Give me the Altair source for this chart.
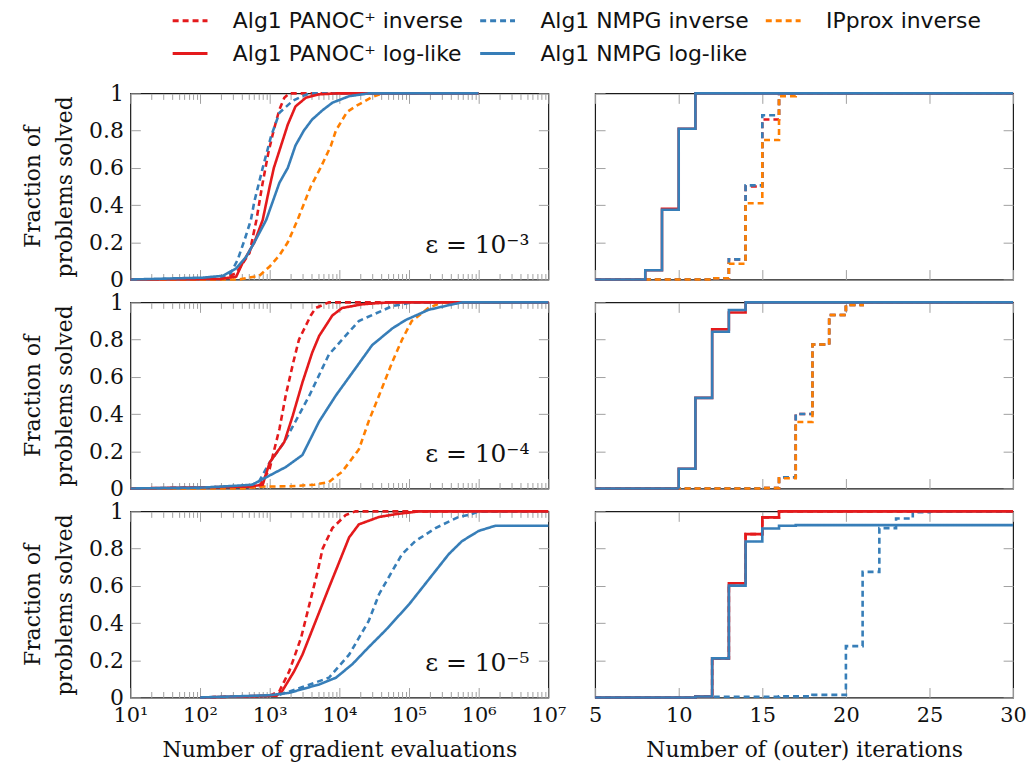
import altair as alt
import pandas as pd

# ---------------------------------------------------------------- series
SERIES = ["Alg1 PANOC⁺ inverse", "Alg1 NMPG inverse", "IPprox inverse",
          "Alg1 PANOC⁺ log-like", "Alg1 NMPG log-like"]
COLORS = ["#e41a1c", "#377eb8", "#ff7f00", "#e41a1c", "#377eb8"]
DASHES = [[6, 4], [6, 4], [6, 4], [1, 0], [1, 0]]

# ---------------------------------------------------------------- row 1 (eps = 1e-3), gradient evaluations
GE3_PANOC_INV_X = [10, 200, 331, 513, 646, 776, 955, 1148, 1380, 1622, 1905, 1000000]
GE3_PANOC_INV_Y = [0, 0.003, 0.034, 0.142, 0.321, 0.5, 0.68, 0.806, 0.914, 0.977, 1, 1]
GE3_NMPG_INV_X = [10, 200, 275, 347, 437, 537, 603, 794, 1047, 1380, 2138, 2951, 3715, 1000000]
GE3_NMPG_INV_Y = [0, 0.005, 0.034, 0.106, 0.214, 0.32, 0.42, 0.6, 0.77, 0.896, 0.96, 0.985, 1, 1]
GE3_IPPROX_X = [10, 363, 708, 1000, 1380, 1820, 2512, 3890, 5370, 7586, 8913, 12880, 16980, 29510, 40740, 1000000]
GE3_IPPROX_Y = [0, 0, 0.02, 0.07, 0.13, 0.2, 0.32, 0.5, 0.6, 0.72, 0.8, 0.9, 0.93, 0.98, 1, 1]
GE3_PANOC_LOG_X = [10, 200, 331, 407, 603, 794, 1000, 1148, 1445, 1820, 2344, 3311, 5129, 8913, 1000000]
GE3_PANOC_LOG_Y = [0, 0.003, 0.016, 0.088, 0.2, 0.32, 0.5, 0.6, 0.716, 0.833, 0.93, 0.977, 0.995, 1, 1]
GE3_NMPG_LOG_X = [10, 110, 214, 331, 457, 603, 891, 1380, 1820, 2344, 3090, 4074, 5754, 7943, 13800, 26300, 1000000]
GE3_NMPG_LOG_Y = [0, 0.01, 0.02, 0.06, 0.12, 0.2, 0.32, 0.52, 0.6, 0.72, 0.8, 0.86, 0.91, 0.95, 0.985, 1, 1]

# ---------------------------------------------------------------- row 2 (eps = 1e-4), gradient evaluations
GE4_PANOC_INV_X = [10, 500, 708, 1000, 1148, 1380, 1698, 2188, 2630, 3890, 4571, 7079, 10000000]
GE4_PANOC_INV_Y = [0, 0.005, 0.01, 0.106, 0.2, 0.32, 0.5, 0.68, 0.8, 0.93, 0.97, 1, 1]
GE4_NMPG_INV_X = [10, 500, 708, 1000, 1622, 2344, 3715, 5129, 7079, 10960, 19050, 33110, 57540, 109600, 10000000]
GE4_NMPG_INV_Y = [0, 0.01, 0.04, 0.14, 0.25, 0.36, 0.5, 0.61, 0.72, 0.8, 0.9, 0.94, 0.98, 1, 1]
GE4_IPPROX_X = [10, 407, 708, 2000, 4365, 7079, 10960, 19050, 26300, 37150, 57540, 79430, 109600, 190500, 295100, 10000000]
GE4_IPPROX_Y = [0, 0, 0.01, 0.012, 0.02, 0.035, 0.09, 0.21, 0.36, 0.5, 0.68, 0.8, 0.9, 0.97, 1, 1]
GE4_PANOC_LOG_X = [10, 500, 794, 1000, 1622, 2138, 2951, 4074, 5129, 7943, 10960, 21380, 51290, 10000000]
GE4_PANOC_LOG_Y = [0, 0.01, 0.02, 0.14, 0.25, 0.39, 0.57, 0.73, 0.82, 0.93, 0.97, 0.99, 1, 1]
GE4_NMPG_LOG_X = [10, 110, 331, 562, 1000, 1698, 2951, 4074, 5129, 8913, 16980, 29510, 57540, 89130, 190500, 371500, 575400, 10000000]
GE4_NMPG_LOG_Y = [0, 0.005, 0.015, 0.02, 0.07, 0.115, 0.18, 0.285, 0.36, 0.5, 0.645, 0.77, 0.86, 0.905, 0.96, 0.985, 1, 1]

# ---------------------------------------------------------------- row 3 (eps = 1e-5), gradient evaluations
GE5_PANOC_INV_X = [100, 1000, 1380, 1905, 2818, 3715, 4898, 5754, 7943, 12300, 17000, 10000000]
GE5_PANOC_INV_Y = [0, 0.01, 0.035, 0.14, 0.32, 0.5, 0.68, 0.8, 0.91, 0.98, 1, 1]
GE5_NMPG_INV_X = [100, 1259, 2344, 7079, 13800, 26300, 37150, 57540, 79430, 123000, 239900, 512900, 794300, 1000000, 10000000]
GE5_NMPG_INV_Y = [0, 0.01, 0.043, 0.106, 0.23, 0.41, 0.555, 0.68, 0.77, 0.84, 0.91, 0.97, 0.985, 1, 1]
GE5_PANOC_LOG_X = [100, 1259, 1514, 2239, 2951, 4571, 7079, 9772, 13800, 19050, 37150, 64570, 138000, 10000000]
GE5_PANOC_LOG_Y = [0, 0.01, 0.035, 0.14, 0.23, 0.41, 0.59, 0.72, 0.86, 0.93, 0.97, 0.985, 1, 1]
GE5_NMPG_LOG_X = [100, 1000, 1905, 5129, 8913, 15490, 26300, 45710, 100000, 154900, 239900, 371500, 575400, 1000000, 1738000, 10000000]
GE5_NMPG_LOG_Y = [0, 0.012, 0.025, 0.07, 0.106, 0.18, 0.27, 0.36, 0.5, 0.59, 0.68, 0.77, 0.84, 0.895, 0.923, 0.923]

# ---------------------------------------------------------------- outer iterations (step plots)
IT3_LOG_X = [5, 8, 9, 10, 11, 30]
IT3_PANOC_LOG_Y = [0, 0.05, 0.38, 0.81, 1, 1]
IT3_NMPG_LOG_Y = [0, 0.05, 0.375, 0.81, 1, 1]
IT3_INV_X = [5, 12, 13, 14, 15, 16, 30]
IT3_PANOC_INV_Y = [0, 0.007, 0.108, 0.5, 0.86, 1, 1]
IT3_NMPG_INV_Y = [0, 0.007, 0.108, 0.506, 0.883, 1, 1]
IT3_IPPROX_X = [5, 12, 13, 14, 15, 16, 17, 30]
IT3_IPPROX_Y = [0, 0.007, 0.085, 0.41, 0.75, 0.985, 1, 1]

IT4_LOG_X = [5, 10, 11, 12, 13, 14, 30]
IT4_PANOC_LOG_Y = [0, 0.106, 0.487, 0.855, 0.946, 1, 1]
IT4_NMPG_LOG_Y = [0, 0.106, 0.487, 0.842, 0.959, 1, 1]
IT4_INV_X = [5, 15, 16, 17, 18, 19, 20, 21, 30]
IT4_PANOC_INV_Y = [0, 0.002, 0.06, 0.40, 0.774, 0.932, 0.986, 1, 1]
IT4_NMPG_INV_Y = [0, 0.002, 0.06, 0.40, 0.774, 0.932, 0.986, 1, 1]
IT4_IPPROX_Y = [0, 0.002, 0.055, 0.357, 0.774, 0.932, 0.986, 1, 1]

IT5_PANOC_X = [5, 11, 12, 13, 14, 15, 16, 30]
IT5_PANOC_LOG_Y = [0, 0.005, 0.21, 0.614, 0.878, 0.968, 1, 1]
IT5_PANOC_INV_Y = [0, 0.005, 0.21, 0.614, 0.878, 0.968, 1, 1]
IT5_NMPG_LOG_X = [5, 11, 12, 13, 14, 15, 16, 17, 30]
IT5_NMPG_LOG_Y = [0, 0.005, 0.21, 0.601, 0.838, 0.908, 0.923, 0.926, 0.926]
IT5_NMPG_INV_X = [5, 11, 16, 18, 20, 21, 22, 23, 24, 25, 30]
IT5_NMPG_INV_Y = [0, 0.004, 0.006, 0.014, 0.276, 0.675, 0.91, 0.962, 0.995, 1, 1]

# ---------------------------------------------------------------- axes / labels
MAJOR_DECADES = [10, 100, 1000, 10000, 100000, 1000000, 10000000]
MINOR_TICKS = [m * d for d in MAJOR_DECADES[:-1] for m in range(2, 10)]
Y_TICKS = [0, 0.2, 0.4, 0.6, 0.8, 1]
ITER_TICKS = [5, 10, 15, 20, 25, 30]
EPS_LABELS = ["ε = 10⁻³", "ε = 10⁻⁴", "ε = 10⁻⁵"]
X_TITLES = ["Number of gradient evaluations", "Number of (outer) iterations"]
Y_TITLE = ["Fraction of", "problems solved"]

SERIF = "DejaVu Serif"
SANS = "DejaVu Sans"
W, H = 420, 187
TICK_COLOR = "#a0a0a0"
TXT = "#111111"

LOG_LABEL_EXPR = ("'10' + ['⁰','¹','²','³','⁴','⁵','⁶','⁷']"
                  "[round(log(datum.value) / LN10)]")
Y_LABEL_EXPR = ("datum.value == 0 ? '0' : datum.value == 1 ? '1' : "
                "format(datum.value, '.1f')")

color_scale = alt.Scale(domain=SERIES, range=COLORS)
dash_scale = alt.Scale(domain=SERIES, range=DASHES)
legend = alt.Legend(orient="none", legendX=41, legendY=-92, columns=3, direction="horizontal",
                    title=None, symbolType="stroke", symbolStrokeWidth=3, symbolSize=1225,
                    labelFont=SANS, labelFontSize=22, labelColor=TXT, labelLimit=500,
                    labelOffset=24, columnPadding=10, rowPadding=3)


def axis(**kw):
    d = dict(domain=False, grid=False, tickColor=TICK_COLOR, tickWidth=1,
             labelFont=SERIF, labelFontSize=21, labelColor=TXT,
             titleFont=SERIF, titleFontSize=22, titleColor=TXT,
             titleFontWeight="normal", labelFlush=False, labelOverlap=False)
    d.update(kw)
    return alt.Axis(**d)


def make_panel(series_data, grad, row):
    bottom = row == 2
    if grad:
        xscale = alt.Scale(type="log", domain=[10, 10000000], nice=False)
        xmajor = MAJOR_DECADES
        interp = "linear"
    else:
        xscale = alt.Scale(domain=[5, 30], nice=False, zero=False)
        xmajor = ITER_TICKS
        interp = "step-after"
    yscale = alt.Scale(domain=[0, 1], nice=False)

    xkw = dict(orient="bottom", values=xmajor, tickSize=10, offset=-10,
               labels=bottom, labelPadding=7, titlePadding=14)
    if grad:
        xkw["labelExpr"] = LOG_LABEL_EXPR
    x_main = axis(**xkw)
    y_main = axis(orient="left", values=Y_TICKS, tickSize=10, offset=-10,
                  labels=grad, labelExpr=Y_LABEL_EXPR, labelPadding=7,
                  labelFontSize=22, titlePadding=12, titleLineHeight=32)
    x_title = X_TITLES[0 if grad else 1] if bottom else None
    y_title = Y_TITLE if grad else None

    layers = []
    first_df = None
    for i, (name, xs, ys) in enumerate(series_data):
        df = pd.DataFrame({"x": xs, "y": ys, "series": name})
        if first_df is None:
            first_df = df
        layers.append(
            alt.Chart(df).mark_line(strokeWidth=2.6, interpolate=interp).encode(
                x=alt.X("x:Q", scale=xscale, axis=x_main if i == 0 else None,
                        title=x_title),
                y=alt.Y("y:Q", scale=yscale, axis=y_main if i == 0 else None,
                        title=y_title),
                color=alt.Color("series:N", scale=color_scale, legend=legend),
                strokeDash=alt.StrokeDash("series:N", scale=dash_scale, legend=legend),
            )
        )

    def axis_layer(xa, ya):
        return alt.Chart(first_df).mark_point(opacity=0).encode(
            x=alt.X("x:Q", scale=xscale, axis=xa, title=None),
            y=alt.Y("y:Q", scale=yscale, axis=ya, title=None),
        )

    layers.append(axis_layer(
        axis(orient="top", values=xmajor, tickSize=10, offset=-10, labels=False),
        axis(orient="right", values=Y_TICKS, tickSize=10, offset=-10, labels=False)))
    if grad:
        layers.append(axis_layer(
            axis(orient="bottom", values=MINOR_TICKS, tickSize=6, offset=-6, labels=False),
            None))
        layers.append(axis_layer(
            axis(orient="top", values=MINOR_TICKS, tickSize=6, offset=-6, labels=False),
            None))
        layers.append(
            alt.Chart(pd.DataFrame({"t": [EPS_LABELS[row]]})).mark_text(
                align="right", baseline="alphabetic", font=SERIF, fontSize=25, color=TXT
            ).encode(text="t:N", x=alt.value(W - 19), y=alt.value(H - 27))
        )

    return alt.layer(*layers).resolve_axis(x="independent", y="independent").properties(
        width=W, height=H)


GRAD_ROWS = [
    [(SERIES[0], GE3_PANOC_INV_X, GE3_PANOC_INV_Y), (SERIES[1], GE3_NMPG_INV_X, GE3_NMPG_INV_Y),
     (SERIES[2], GE3_IPPROX_X, GE3_IPPROX_Y), (SERIES[3], GE3_PANOC_LOG_X, GE3_PANOC_LOG_Y),
     (SERIES[4], GE3_NMPG_LOG_X, GE3_NMPG_LOG_Y)],
    [(SERIES[0], GE4_PANOC_INV_X, GE4_PANOC_INV_Y), (SERIES[1], GE4_NMPG_INV_X, GE4_NMPG_INV_Y),
     (SERIES[2], GE4_IPPROX_X, GE4_IPPROX_Y), (SERIES[3], GE4_PANOC_LOG_X, GE4_PANOC_LOG_Y),
     (SERIES[4], GE4_NMPG_LOG_X, GE4_NMPG_LOG_Y)],
    [(SERIES[0], GE5_PANOC_INV_X, GE5_PANOC_INV_Y), (SERIES[1], GE5_NMPG_INV_X, GE5_NMPG_INV_Y),
     (SERIES[3], GE5_PANOC_LOG_X, GE5_PANOC_LOG_Y), (SERIES[4], GE5_NMPG_LOG_X, GE5_NMPG_LOG_Y)],
]
ITER_ROWS = [
    [(SERIES[0], IT3_INV_X, IT3_PANOC_INV_Y), (SERIES[1], IT3_INV_X, IT3_NMPG_INV_Y),
     (SERIES[2], IT3_IPPROX_X, IT3_IPPROX_Y), (SERIES[3], IT3_LOG_X, IT3_PANOC_LOG_Y),
     (SERIES[4], IT3_LOG_X, IT3_NMPG_LOG_Y)],
    [(SERIES[0], IT4_INV_X, IT4_PANOC_INV_Y), (SERIES[1], IT4_INV_X, IT4_NMPG_INV_Y),
     (SERIES[2], IT4_INV_X, IT4_IPPROX_Y), (SERIES[3], IT4_LOG_X, IT4_PANOC_LOG_Y),
     (SERIES[4], IT4_LOG_X, IT4_NMPG_LOG_Y)],
    [(SERIES[0], IT5_PANOC_X, IT5_PANOC_INV_Y), (SERIES[1], IT5_NMPG_INV_X, IT5_NMPG_INV_Y),
     (SERIES[3], IT5_PANOC_X, IT5_PANOC_LOG_Y), (SERIES[4], IT5_NMPG_LOG_X, IT5_NMPG_LOG_Y)],
]

panels = []
for r in range(3):
    panels.append(make_panel(GRAD_ROWS[r], True, r))
    panels.append(make_panel(ITER_ROWS[r], False, r))

chart = alt.concat(*panels, columns=2, spacing={"row": 23, "column": 47},
                   bounds="flush").properties(
    padding={"left": 21, "top": 0, "right": 5, "bottom": 5}
).configure_view(stroke="#1a1a1a", strokeWidth=1.2)

chart.save("out.html", embed_options={"renderer": "svg", "actions": False})
